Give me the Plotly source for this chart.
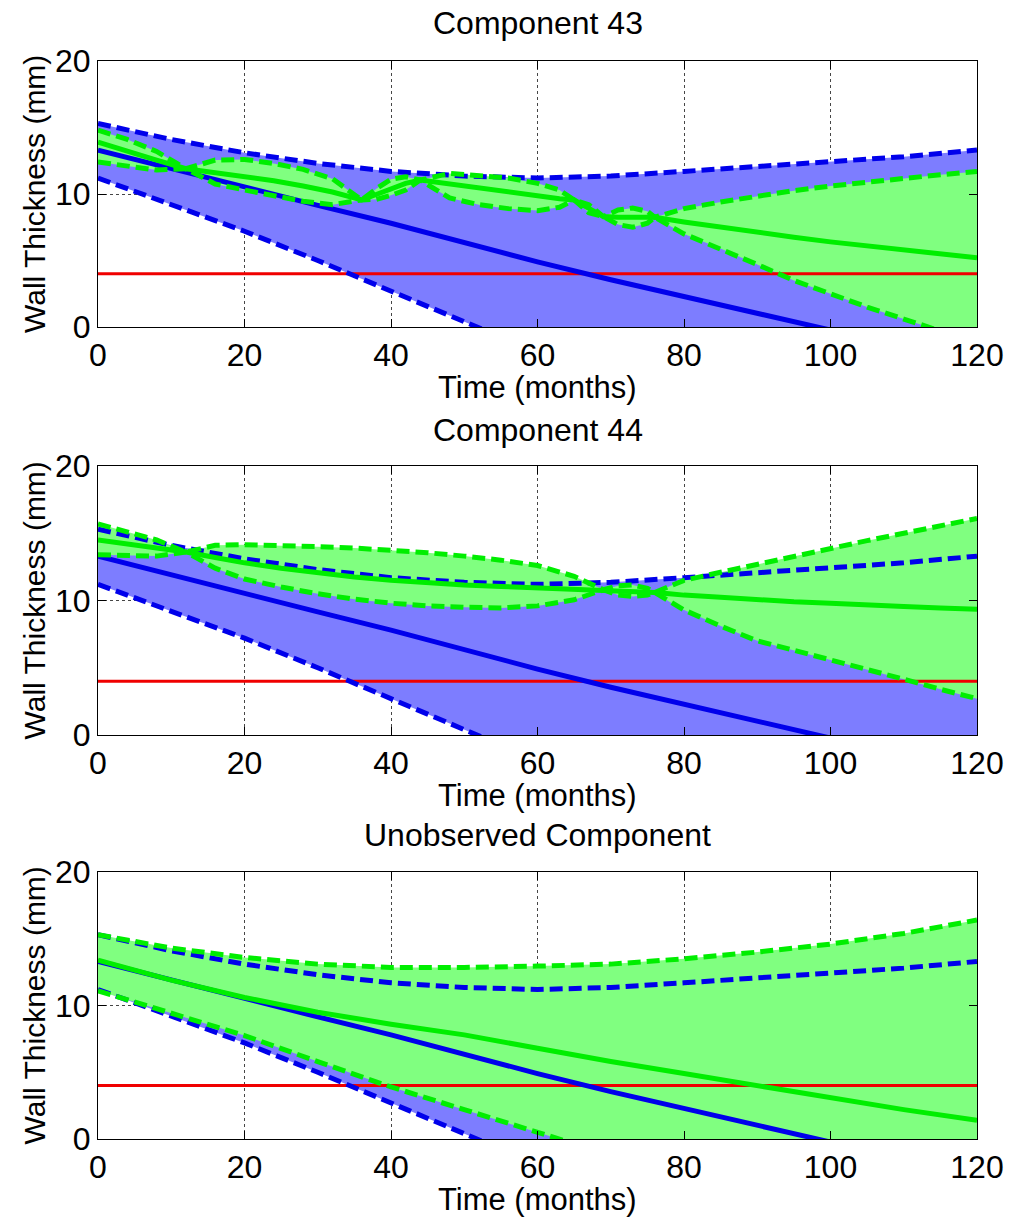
import plotly.graph_objects as go

# ---------------- data ----------------
TITLES = ["Component 43", "Component 44", "Unobserved Component"]
X_LABEL = "Time (months)"
Y_LABEL = "Wall Thickness (mm)"
THRESHOLD = 4.0
X_TICKS = [0, 20, 40, 60, 80, 100, 120]
Y_TICKS = [0, 10, 20]

# prior (blue) - identical in each panel
PRIOR_X = [0, 10, 20, 30, 40, 50, 60, 70, 80, 90, 100, 110, 120]
PRIOR_MEAN = [13.3, 11.9, 10.5, 9.15, 7.8, 6.35, 4.9, 3.55, 2.25, 1.0, -0.25, -1.5, -2.75]
PRIOR_UPPER = [15.3, 14.1, 13.1, 12.3, 11.7, 11.35, 11.2, 11.35, 11.7, 12.05, 12.4, 12.8, 13.3]
PRIOR_LOWER = [11.2, 9.2, 7.2, 5.0, 2.7, 0.4, -1.9, -4.2, -6.5, -8.8, -11.1, -13.4, -15.7]

# posterior (green) - Component 43
C43_X = [0, 4, 8, 12, 16, 20, 24, 28, 32, 36, 38, 40, 42, 44, 48, 52, 56, 60, 63, 65,
         67, 69, 71, 73, 75, 76, 80, 85, 90, 95, 100, 105, 110, 115, 120]
C43_MEAN = [13.9, 13.2, 12.55, 11.9, 11.6, 11.3, 11.0, 10.6, 10.15, 9.55, 10.0, 10.45, 10.8, 11.05,
            10.75, 10.4, 10.1, 9.8, 9.65, 9.55, 8.9, 8.3, 8.25, 8.25, 8.25, 8.25,
            7.9, 7.5, 7.1, 6.75, 6.4, 6.1, 5.75, 5.45, 5.2]
C43_UPPER = [14.8, 14.1, 13.2, 11.9, 12.55, 12.6, 12.3, 11.85, 11.15, 9.55, 10.4, 11.1, 11.3, 11.05,
             11.55, 11.4, 11.2, 10.8, 10.3, 9.55, 9.2, 8.3, 8.8, 8.95, 8.7, 8.25,
             8.9, 9.4, 9.85, 10.25, 10.6, 10.9, 11.2, 11.45, 11.7]
C43_LOWER = [12.4, 12.1, 11.8, 11.9, 10.75, 10.3, 9.85, 9.45, 9.2, 9.55, 9.6, 9.9, 10.3, 11.05,
             9.7, 9.2, 8.9, 8.75, 9.0, 9.55, 8.6, 8.3, 7.7, 7.5, 7.8, 8.25,
             7.0, 5.9, 4.7, 3.5, 2.5, 1.5, 0.6, -0.3, -1.2]

# posterior (green) - Component 44
C44_X = [0, 4, 8, 12, 16, 20, 25, 30, 35, 40, 45, 50, 55, 60, 65, 69, 71, 73, 75, 76,
         78, 80, 85, 90, 95, 100, 105, 110, 115, 120]
C44_MEAN = [14.5, 14.2, 13.9, 13.6, 13.2, 12.8, 12.4, 12.05, 11.75, 11.5, 11.3, 11.15, 11.05, 10.95,
            10.85, 10.8, 10.75, 10.7, 10.65, 10.6, 10.5, 10.4, 10.25, 10.05, 9.9, 9.8, 9.65, 9.55,
            9.45, 9.35]
C44_UPPER = [15.7, 15.1, 14.5, 13.6, 14.1, 14.15, 14.1, 14.0, 13.9, 13.75, 13.55, 13.3, 13.0, 12.6,
             11.8, 10.8, 11.1, 11.15, 10.9, 10.6, 11.05, 11.5, 12.1, 12.7, 13.3, 13.9, 14.45, 15.0,
             15.55, 16.1]
C44_LOWER = [13.4, 13.35, 13.3, 13.6, 12.4, 11.6, 11.0, 10.5, 10.1, 9.8, 9.6, 9.5, 9.45, 9.6,
             10.05, 10.8, 10.4, 10.3, 10.4, 10.6, 9.9, 9.3, 8.1, 7.0, 6.3, 5.6, 4.85, 4.15,
             3.4, 2.7]

# posterior (green) - Unobserved component
UNOBS_X = [0, 10, 20, 30, 40, 50, 60, 70, 80, 90, 100, 110, 120]
UNOBS_MEAN = [13.4, 11.9, 10.6, 9.5, 8.6, 7.8, 6.8, 5.8, 4.9, 4.0, 3.1, 2.2, 1.4]
UNOBS_UPPER = [15.3, 14.3, 13.6, 13.1, 12.85, 12.85, 12.95, 13.1, 13.5, 14.0, 14.6, 15.4, 16.4]
UNOBS_LOWER = [11.1, 9.4, 7.75, 5.8, 3.9, 2.2, 0.5, -1.2, -2.9, -4.6, -6.3, -8.0, -9.7]

POSTERIORS = [
    (C43_X, C43_MEAN, C43_UPPER, C43_LOWER),
    (C44_X, C44_MEAN, C44_UPPER, C44_LOWER),
    (UNOBS_X, UNOBS_MEAN, UNOBS_UPPER, UNOBS_LOWER),
]

# ---------------- styling ----------------
W, H = 1012, 1218
FONT = "Liberation Sans, Arial, sans-serif"
BLUE_FILL = "rgb(125,125,255)"
GREEN_FILL = "rgb(128,255,128)"
BLUE_LINE = "rgb(0,0,235)"
GREEN_LINE = "rgb(0,238,0)"
RED_LINE = "rgb(240,0,0)"
DASH = "13px,6px"

# panel pixel boxes (left, right, top, bottom)
PX_L, PX_R = 98, 977
PANELS_PX = [(61, 327), (466, 735), (872, 1139)]
TITLE_Y_PX = [23, 430, 835]
XLABEL_Y_PX = [387, 795, 1199]

fig = go.Figure()

for i, ((gx, gm, gu, gl), (top, bot)) in enumerate(zip(POSTERIORS, PANELS_PX)):
    sfx = "" if i == 0 else str(i + 1)
    xa, ya = "x" + sfx, "y" + sfx

    # blue band fill
    fig.add_trace(go.Scatter(x=PRIOR_X, y=PRIOR_LOWER, mode="lines", line=dict(width=0),
                             showlegend=False, hoverinfo="skip", xaxis=xa, yaxis=ya))
    fig.add_trace(go.Scatter(x=PRIOR_X, y=PRIOR_UPPER, mode="lines", line=dict(width=0),
                             fill="tonexty", fillcolor=BLUE_FILL,
                             showlegend=False, hoverinfo="skip", xaxis=xa, yaxis=ya))
    # green band fill
    fig.add_trace(go.Scatter(x=gx, y=gl, mode="lines", line=dict(width=0),
                             showlegend=False, hoverinfo="skip", xaxis=xa, yaxis=ya))
    fig.add_trace(go.Scatter(x=gx, y=gu, mode="lines", line=dict(width=0),
                             fill="tonexty", fillcolor=GREEN_FILL,
                             showlegend=False, hoverinfo="skip", xaxis=xa, yaxis=ya))
    # threshold
    fig.add_trace(go.Scatter(x=[X_TICKS[0], X_TICKS[-1]], y=[THRESHOLD, THRESHOLD], mode="lines",
                             line=dict(color=RED_LINE, width=3),
                             showlegend=False, xaxis=xa, yaxis=ya))
    # blue lines
    for yy, dash in ((PRIOR_MEAN, "solid"), (PRIOR_UPPER, DASH), (PRIOR_LOWER, DASH)):
        fig.add_trace(go.Scatter(x=PRIOR_X, y=yy, mode="lines",
                                 line=dict(color=BLUE_LINE, width=5, dash=dash),
                                 showlegend=False, xaxis=xa, yaxis=ya))
    # green lines
    for yy, dash in ((gm, "solid"), (gu, DASH), (gl, DASH)):
        fig.add_trace(go.Scatter(x=gx, y=yy, mode="lines",
                                 line=dict(color=GREEN_LINE, width=5, dash=dash),
                                 showlegend=False, xaxis=xa, yaxis=ya))

    axis_common = dict(showline=True, linecolor="black", linewidth=1, mirror="ticks",
                       ticks="inside", ticklen=8, tickcolor="black", tickwidth=1,
                       showgrid=True, gridcolor="rgb(70,70,70)", griddash="dot", gridwidth=1,
                       zeroline=False, automargin=False,
                       tickfont=dict(family=FONT, size=32, color="black"))
    fig.layout["xaxis" + sfx] = dict(
        axis_common, domain=[PX_L / W, PX_R / W], range=[0, 120],
        tickmode="array", tickvals=X_TICKS, ticktext=[str(v) for v in X_TICKS],
        anchor=ya)
    fig.layout["yaxis" + sfx] = dict(
        axis_common, domain=[1 - bot / H, 1 - top / H], range=[0, 20],
        tickmode="array", tickvals=Y_TICKS, ticktext=[str(v) for v in Y_TICKS],
        anchor=xa)

    cx = (PX_L + PX_R) / 2 / W
    fig.add_annotation(text=TITLES[i], x=cx, y=1 - TITLE_Y_PX[i] / H, xref="paper", yref="paper",
                       xanchor="center", yanchor="middle", showarrow=False,
                       font=dict(family=FONT, size=32, color="black"))
    fig.add_annotation(text=X_LABEL, x=cx, y=1 - XLABEL_Y_PX[i] / H, xref="paper", yref="paper",
                       xanchor="center", yanchor="middle", showarrow=False,
                       font=dict(family=FONT, size=31, color="black"))
    fig.add_annotation(text=Y_LABEL, x=34 / W, y=1 - (top + bot) / 2 / H, xref="paper", yref="paper",
                       xanchor="center", yanchor="middle", showarrow=False, textangle=-90,
                       font=dict(family=FONT, size=30, color="black"))

fig.update_layout(width=W, height=H,
                  margin=dict(l=0, r=0, t=0, b=0, pad=0, autoexpand=False),
                  plot_bgcolor="white", paper_bgcolor="white", showlegend=False)

fig.write_html("out.html", config={"displayModeBar": False},
               post_script="document.body.style.margin='0px';")
